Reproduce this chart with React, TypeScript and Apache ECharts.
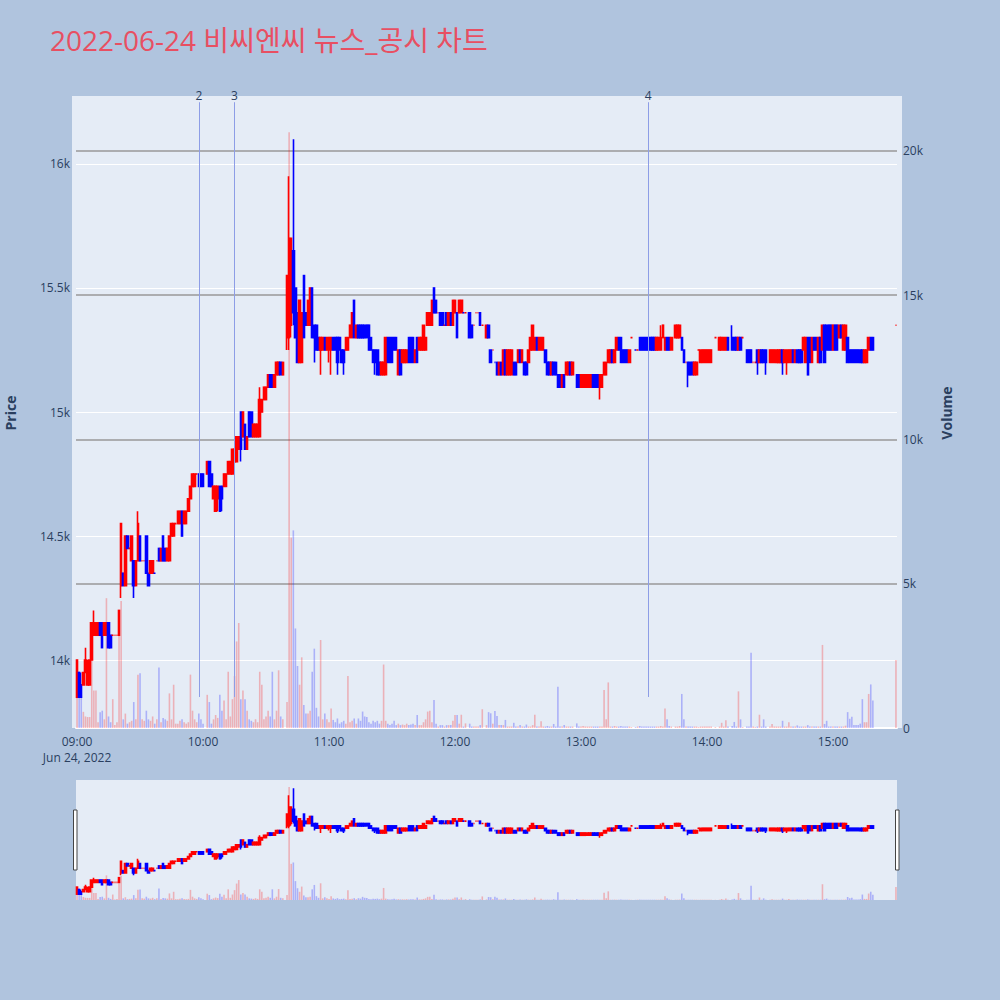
import React, { useEffect, useRef } from "react";
import * as echarts from "echarts";

// ---------- text / labels ----------
const TITLE = "2022-06-24 비씨엔씨 뉴스_공시 차트";
const HOUR_LABELS = ["09:00", "10:00", "11:00", "12:00", "13:00", "14:00", "15:00"];
const DATE_LABEL = "Jun 24, 2022";
const PRICE_TICKS = [14000, 14500, 15000, 15500, 16000];
const PRICE_RANGE = [13726, 16274];
const VOLUME_RANGE = [0, 21906];
const VOLUME_TICK_STEP = 5000;
const SESSION_FIRST_MINUTE = 9 * 60; // 09:00
const SESSION_LENGTH = 391; // 09:00 .. 15:30

// news / disclosure markers: [label, time]
const NEWS_MARKERS: [string, string][] = [
  ["2", "09:58"],
  ["3", "10:15"],
  ["4", "13:32"],
];
const NEWS_SPAN = [21690, 1075]; // top / bottom, volume-axis units

// ---------- 1-minute candles: [minute from 09:00, open, close, low, high, volume] ----------
const morningCandles: number[][] = [
  [0, 13850, 14000, 13850, 14000, 2000],
  [1, 13950, 13850, 13850, 13950, 1100],
  [2, 13900, 13850, 13850, 13950, 1140],
  [3, 13900, 13950, 13900, 13950, 560],
  [4, 13950, 14000, 13950, 14050, 400],
  [5, 13900, 13950, 13900, 14000, 380],
  [6, 13900, 14000, 13900, 14000, 380],
  [7, 14000, 14150, 14000, 14150, 2700],
  [8, 14100, 14150, 14100, 14200, 1300],
  [9, 14100, 14150, 14100, 14150, 1300],
  [10, 14100, 14150, 14100, 14150, 200],
  [11, 14150, 14100, 14100, 14150, 550],
  [12, 14150, 14050, 14050, 14150, 600],
  [13, 14100, 14150, 14100, 14150, 300],
  [14, 14100, 14150, 14100, 14150, 4500],
  [15, 14150, 14050, 14050, 14150, 400],
  [16, 14100, 14050, 14050, 14100, 200],
  [17, 14100, 14100, 14100, 14100, 1000],
  [18, 14100, 14100, 14100, 14100, 100],
  [19, 14100, 14100, 14100, 14100, 200],
  [20, 14100, 14200, 14100, 14200, 3800],
  [21, 14300, 14550, 14250, 14550, 4400],
  [22, 14350, 14300, 14300, 14350, 300],
  [23, 14300, 14500, 14300, 14500, 500],
  [24, 14500, 14450, 14450, 14500, 150],
  [25, 14450, 14450, 14450, 14450, 200],
  [26, 14400, 14500, 14400, 14500, 250],
  [27, 14400, 14300, 14250, 14400, 900],
  [28, 14300, 14400, 14300, 14400, 300],
  [29, 14400, 14550, 14400, 14600, 1850],
  [30, 14500, 14400, 14400, 14500, 1900],
  [31, 14400, 14400, 14400, 14400, 300],
  [32, 14400, 14400, 14400, 14400, 250],
  [33, 14500, 14350, 14350, 14500, 600],
  [34, 14350, 14300, 14300, 14350, 300],
  [35, 14350, 14400, 14350, 14400, 250],
  [36, 14350, 14400, 14350, 14400, 400],
  [37, 14350, 14350, 14350, 14350, 150],
  [38, 14400, 14400, 14400, 14400, 300],
  [39, 14450, 14400, 14400, 14450, 2100],
  [40, 14400, 14450, 14400, 14450, 200],
  [41, 14500, 14400, 14400, 14500, 350],
  [42, 14450, 14400, 14400, 14450, 300],
  [43, 14400, 14450, 14400, 14450, 250],
  [44, 14400, 14500, 14400, 14500, 1200],
  [45, 14500, 14550, 14500, 14550, 300],
  [46, 14500, 14550, 14500, 14550, 1500],
  [47, 14550, 14550, 14550, 14550, 150],
  [48, 14550, 14600, 14550, 14600, 150],
  [49, 14550, 14600, 14550, 14600, 250],
  [50, 14600, 14500, 14500, 14600, 300],
  [51, 14550, 14600, 14550, 14600, 200],
  [52, 14550, 14600, 14550, 14600, 150],
  [53, 14600, 14650, 14600, 14650, 200],
  [54, 14650, 14700, 14650, 14700, 1850],
  [55, 14700, 14750, 14700, 14750, 600],
  [56, 14700, 14750, 14700, 14750, 300],
  [57, 14750, 14750, 14750, 14750, 200],
  [58, 14750, 14700, 14700, 14750, 500],
  [59, 14750, 14700, 14700, 14750, 300],
  [60, 14750, 14700, 14700, 14750, 150],
  [62, 14750, 14800, 14750, 14800, 1150],
  [63, 14800, 14700, 14700, 14800, 900],
  [64, 14750, 14700, 14700, 14750, 150],
  [65, 14650, 14700, 14650, 14700, 300],
  [66, 14600, 14700, 14600, 14700, 450],
  [67, 14650, 14700, 14600, 14700, 350],
  [68, 14700, 14600, 14600, 14700, 1150],
  [69, 14700, 14650, 14600, 14700, 600],
  [70, 14700, 14750, 14700, 14750, 950],
  [71, 14700, 14750, 14700, 14750, 300],
  [72, 14750, 14800, 14750, 14800, 1950],
  [73, 14750, 14800, 14750, 14800, 400],
  [74, 14750, 14850, 14750, 14850, 1000],
  [75, 14800, 14850, 14800, 14850, 1800],
  [76, 14800, 14900, 14800, 14900, 3000],
  [77, 14850, 14900, 14850, 14900, 3640],
  [78, 15000, 14850, 14800, 15000, 1000],
  [79, 14900, 15000, 14900, 15000, 1300],
  [80, 14950, 14850, 14850, 14950, 1000],
  [81, 14850, 14900, 14850, 14900, 600],
  [82, 15000, 14900, 14900, 15000, 300],
  [83, 15000, 14900, 14900, 15000, 250],
  [84, 14900, 14950, 14900, 14950, 200],
  [85, 14900, 14950, 14900, 14950, 300],
  [86, 14900, 14950, 14900, 14950, 200],
  [87, 14900, 15050, 14900, 15100, 1950],
  [88, 15000, 15050, 15000, 15050, 1500],
  [89, 15050, 15100, 15050, 15100, 300],
  [90, 15050, 15100, 15050, 15100, 400],
  [91, 15100, 15150, 15100, 15150, 600],
  [92, 15150, 15100, 15100, 15150, 400],
  [93, 15150, 15100, 15100, 15150, 1950],
  [94, 15100, 15150, 15100, 15150, 300],
  [95, 15150, 15200, 15150, 15200, 600],
  [96, 15150, 15200, 15150, 15200, 2000],
  [97, 15200, 15150, 15150, 15200, 400],
  [98, 15150, 15200, 15150, 15200, 300],
];

const middayCandles: number[][] = [
  [100, 15300, 15550, 15250, 15550, 900],
  [101, 15300, 15700, 15250, 15950, 20650],
  [102, 15350, 15700, 15300, 15700, 6600],
  [103, 15650, 15400, 15350, 16100, 6850],
  [104, 15500, 15300, 15300, 15500, 3450],
  [105, 15400, 15200, 15200, 15400, 2150],
  [106, 15200, 15450, 15200, 15450, 1500],
  [107, 15200, 15400, 15200, 15400, 2450],
  [108, 15550, 15300, 15300, 15550, 800],
  [109, 15400, 15350, 15350, 15400, 500],
  [110, 15350, 15450, 15350, 15450, 500],
  [111, 15350, 15500, 15350, 15500, 600],
  [112, 15500, 15300, 15300, 15500, 1950],
  [113, 15350, 15300, 15200, 15350, 2750],
  [114, 15350, 15250, 15250, 15350, 700],
  [115, 15300, 15250, 15250, 15300, 400],
  [116, 15250, 15300, 15150, 15300, 3050],
  [117, 15250, 15300, 15250, 15300, 300],
  [118, 15300, 15250, 15250, 15300, 500],
  [119, 15250, 15300, 15250, 15300, 300],
  [120, 15250, 15300, 15200, 15300, 200],
  [121, 15250, 15300, 15150, 15300, 680],
  [122, 15300, 15250, 15250, 15300, 280],
  [123, 15300, 15250, 15250, 15300, 200],
  [124, 15300, 15200, 15150, 15300, 330],
  [125, 15300, 15250, 15250, 15300, 150],
  [126, 15250, 15200, 15200, 15250, 200],
  [127, 15250, 15200, 15150, 15250, 250],
  [128, 15250, 15300, 15250, 15300, 150],
  [129, 15250, 15300, 15250, 15300, 1800],
  [130, 15300, 15350, 15300, 15350, 200],
  [131, 15300, 15400, 15300, 15400, 250],
  [132, 15450, 15300, 15300, 15450, 330],
  [133, 15300, 15350, 15300, 15350, 150],
  [134, 15350, 15300, 15300, 15350, 330],
  [135, 15350, 15300, 15300, 15350, 250],
  [136, 15350, 15300, 15300, 15350, 570],
  [137, 15350, 15300, 15300, 15350, 400],
  [138, 15350, 15300, 15300, 15350, 380],
  [139, 15350, 15250, 15250, 15350, 200],
  [140, 15300, 15250, 15250, 15300, 150],
  [141, 15250, 15200, 15200, 15250, 250],
  [142, 15250, 15200, 15150, 15250, 200],
  [143, 15250, 15150, 15150, 15250, 250],
  [144, 15200, 15150, 15150, 15200, 150],
  [145, 15150, 15200, 15150, 15200, 250],
  [146, 15150, 15200, 15150, 15200, 2200],
  [147, 15150, 15300, 15150, 15300, 250],
  [148, 15300, 15200, 15200, 15300, 150],
  [149, 15300, 15200, 15200, 15300, 100],
  [150, 15300, 15200, 15200, 15300, 150],
  [151, 15300, 15250, 15250, 15300, 250],
  [152, 15300, 15250, 15250, 15300, 100],
  [153, 15150, 15250, 15150, 15250, 150],
  [154, 15250, 15150, 15150, 15250, 100],
  [155, 15200, 15250, 15200, 15250, 120],
  [156, 15200, 15250, 15200, 15250, 100],
  [157, 15200, 15250, 15200, 15250, 150],
  [158, 15300, 15200, 15200, 15300, 100],
  [159, 15300, 15200, 15200, 15300, 120],
  [160, 15300, 15200, 15200, 15300, 150],
  [161, 15200, 15250, 15200, 15250, 100],
  [162, 15300, 15200, 15200, 15300, 450],
  [163, 15250, 15300, 15250, 15300, 100],
  [164, 15250, 15300, 15250, 15300, 100],
  [165, 15250, 15350, 15250, 15350, 200],
  [166, 15250, 15300, 15250, 15300, 300],
  [167, 15350, 15400, 15350, 15400, 570],
  [168, 15350, 15400, 15350, 15400, 600],
  [169, 15350, 15450, 15350, 15450, 200],
  [170, 15500, 15400, 15400, 15500, 970],
  [171, 15450, 15400, 15400, 15450, 150],
  [172, 15400, 15400, 15400, 15400, 50],
  [173, 15400, 15350, 15350, 15400, 100],
  [174, 15400, 15350, 15350, 15400, 100],
  [175, 15350, 15350, 15350, 15350, 50],
  [176, 15400, 15350, 15350, 15400, 100],
  [177, 15350, 15400, 15350, 15400, 100],
  [178, 15400, 15350, 15350, 15400, 100],
  [179, 15350, 15450, 15350, 15450, 250],
  [180, 15400, 15450, 15400, 15450, 450],
  [181, 15400, 15300, 15300, 15400, 450],
  [182, 15400, 15450, 15400, 15450, 150],
  [183, 15400, 15450, 15400, 15450, 460],
  [184, 15400, 15400, 15400, 15400, 50],
  [185, 15400, 15400, 15400, 15400, 160],
  [187, 15400, 15300, 15300, 15400, 150],
  [188, 15350, 15300, 15300, 15350, 50],
  [189, 15350, 15350, 15350, 15350, 50],
  [190, 15400, 15400, 15400, 15400, 50],
  [191, 15400, 15400, 15400, 15400, 50],
  [192, 15400, 15350, 15350, 15400, 100],
  [193, 15350, 15350, 15350, 15350, 650],
  [195, 15300, 15350, 15300, 15350, 100],
  [196, 15350, 15300, 15300, 15350, 550],
  [197, 15250, 15200, 15200, 15250, 510],
  [198, 15250, 15250, 15250, 15250, 150],
  [199, 15200, 15200, 15200, 15200, 590],
];

const afternoonCandles: number[][] = [
  [200, 15200, 15150, 15150, 15200, 420],
  [201, 15150, 15200, 15150, 15200, 100],
  [202, 15200, 15150, 15150, 15200, 100],
  [203, 15150, 15250, 15150, 15250, 100],
  [204, 15250, 15150, 15150, 15250, 280],
  [205, 15150, 15250, 15150, 15250, 50],
  [206, 15150, 15250, 15150, 15250, 50],
  [207, 15150, 15250, 15150, 15250, 50],
  [208, 15200, 15150, 15150, 15200, 180],
  [209, 15200, 15150, 15150, 15200, 50],
  [210, 15200, 15250, 15200, 15250, 50],
  [211, 15250, 15200, 15200, 15250, 100],
  [212, 15200, 15250, 15200, 15250, 50],
  [213, 15200, 15150, 15150, 15200, 50],
  [214, 15200, 15150, 15150, 15200, 120],
  [215, 15200, 15250, 15200, 15250, 50],
  [216, 15250, 15300, 15250, 15300, 50],
  [217, 15250, 15350, 15250, 15350, 100],
  [218, 15250, 15300, 15250, 15300, 460],
  [219, 15300, 15250, 15250, 15300, 50],
  [220, 15250, 15300, 15250, 15300, 50],
  [221, 15250, 15300, 15250, 15300, 230],
  [222, 15250, 15300, 15250, 15300, 50],
  [223, 15250, 15200, 15200, 15250, 50],
  [224, 15200, 15150, 15150, 15200, 70],
  [225, 15200, 15150, 15150, 15200, 50],
  [226, 15150, 15200, 15150, 15200, 50],
  [227, 15200, 15150, 15150, 15200, 140],
  [228, 15200, 15150, 15150, 15200, 50],
  [229, 15150, 15100, 15100, 15150, 1430],
  [230, 15150, 15100, 15100, 15150, 50],
  [231, 15100, 15150, 15100, 15150, 50],
  [232, 15150, 15100, 15100, 15150, 100],
  [233, 15150, 15200, 15150, 15200, 50],
  [234, 15150, 15200, 15150, 15200, 50],
  [235, 15200, 15150, 15150, 15200, 50],
  [236, 15150, 15200, 15150, 15200, 50],
  [238, 15150, 15100, 15100, 15150, 160],
  [239, 15150, 15100, 15100, 15150, 50],
  [240, 15100, 15150, 15100, 15150, 50],
  [241, 15100, 15150, 15100, 15150, 70],
  [242, 15100, 15150, 15100, 15150, 50],
  [243, 15100, 15150, 15100, 15150, 50],
  [244, 15100, 15150, 15100, 15150, 50],
  [245, 15100, 15150, 15100, 15150, 50],
  [246, 15150, 15100, 15100, 15150, 50],
  [247, 15150, 15100, 15100, 15150, 50],
  [248, 15150, 15100, 15100, 15150, 50],
  [249, 15100, 15150, 15050, 15150, 50],
  [250, 15100, 15150, 15100, 15150, 50],
  [251, 15150, 15200, 15150, 15200, 1320],
  [252, 15150, 15200, 15150, 15200, 300],
  [253, 15200, 15250, 15200, 15250, 1580],
  [254, 15200, 15250, 15200, 15250, 50],
  [255, 15250, 15200, 15200, 15250, 50],
  [256, 15200, 15250, 15200, 15250, 70],
  [257, 15250, 15300, 15250, 15300, 50],
  [258, 15300, 15250, 15250, 15300, 50],
  [259, 15300, 15200, 15200, 15300, 70],
  [260, 15250, 15200, 15200, 15250, 50],
  [261, 15250, 15200, 15200, 15250, 50],
  [262, 15250, 15200, 15200, 15250, 50],
  [263, 15200, 15250, 15200, 15250, 50],
  [264, 15300, 15300, 15300, 15300, 30],
  [266, 15250, 15250, 15250, 15250, 30],
  [267, 15250, 15250, 15250, 15250, 50],
  [268, 15300, 15250, 15250, 15300, 70],
  [269, 15300, 15250, 15250, 15300, 50],
  [270, 15300, 15250, 15250, 15300, 50],
  [271, 15300, 15250, 15250, 15300, 50],
  [272, 15300, 15250, 15250, 15300, 50],
  [273, 15300, 15250, 15250, 15300, 50],
  [274, 15300, 15250, 15250, 15300, 50],
  [275, 15300, 15250, 15250, 15300, 50],
  [276, 15250, 15300, 15250, 15300, 50],
  [277, 15250, 15300, 15250, 15300, 50],
  [278, 15250, 15300, 15250, 15350, 70],
  [279, 15300, 15350, 15300, 15350, 50],
  [280, 15250, 15300, 15250, 15300, 680],
  [281, 15300, 15250, 15250, 15300, 300],
  [282, 15300, 15250, 15250, 15300, 70],
  [283, 15250, 15300, 15250, 15300, 50],
  [285, 15300, 15350, 15300, 15350, 50],
  [286, 15300, 15350, 15300, 15350, 50],
  [287, 15300, 15350, 15300, 15350, 70],
  [288, 15300, 15250, 15250, 15300, 1180],
  [289, 15250, 15200, 15200, 15250, 300],
  [290, 15200, 15200, 15200, 15200, 50],
  [291, 15200, 15150, 15100, 15200, 50],
  [292, 15200, 15150, 15150, 15200, 50],
  [293, 15200, 15150, 15150, 15200, 50],
  [294, 15150, 15200, 15150, 15200, 50],
  [295, 15150, 15200, 15150, 15200, 50],
  [296, 15250, 15250, 15250, 15250, 30],
  [297, 15200, 15250, 15200, 15250, 50],
  [298, 15200, 15250, 15200, 15250, 50],
  [299, 15200, 15250, 15200, 15250, 50],
  [300, 15200, 15250, 15200, 15250, 50],
  [301, 15200, 15250, 15200, 15250, 50],
  [302, 15200, 15250, 15200, 15250, 50],
  [304, 15300, 15300, 15300, 15300, 30],
  [306, 15250, 15300, 15250, 15300, 50],
  [307, 15250, 15300, 15250, 15300, 180],
  [308, 15250, 15300, 15250, 15300, 50],
  [309, 15250, 15300, 15250, 15300, 270],
  [310, 15300, 15250, 15250, 15300, 50],
  [312, 15300, 15250, 15250, 15350, 70],
  [313, 15300, 15250, 15250, 15300, 210],
  [314, 15300, 15250, 15250, 15300, 50],
  [315, 15250, 15300, 15250, 15300, 1270],
  [316, 15300, 15250, 15250, 15300, 300],
  [317, 15300, 15300, 15300, 15300, 30],
  [319, 15250, 15200, 15200, 15250, 50],
  [320, 15250, 15200, 15200, 15250, 50],
  [321, 15250, 15200, 15200, 15250, 2610],
  [322, 15200, 15200, 15200, 15200, 50],
  [323, 15200, 15200, 15200, 15200, 30],
  [324, 15250, 15200, 15150, 15250, 50],
  [325, 15200, 15250, 15200, 15250, 460],
  [326, 15250, 15200, 15200, 15250, 50],
  [327, 15250, 15200, 15200, 15250, 300],
  [328, 15250, 15200, 15150, 15250, 50],
  [330, 15200, 15250, 15200, 15250, 50],
  [331, 15200, 15250, 15200, 15250, 140],
  [332, 15200, 15250, 15200, 15250, 50],
  [333, 15200, 15250, 15200, 15250, 50],
  [334, 15200, 15250, 15200, 15250, 50],
  [335, 15200, 15250, 15200, 15250, 50],
  [336, 15250, 15200, 15150, 15250, 250],
  [337, 15200, 15250, 15200, 15250, 50],
  [338, 15200, 15250, 15150, 15250, 50],
  [339, 15200, 15250, 15200, 15250, 200],
  [340, 15200, 15250, 15200, 15250, 50],
  [341, 15250, 15200, 15200, 15250, 50],
  [342, 15200, 15250, 15200, 15250, 50],
  [343, 15250, 15200, 15200, 15250, 90],
  [344, 15250, 15200, 15200, 15250, 50],
  [345, 15250, 15200, 15200, 15250, 50],
  [346, 15250, 15300, 15250, 15300, 50],
  [347, 15200, 15300, 15200, 15300, 50],
  [348, 15300, 15150, 15150, 15300, 100],
  [349, 15300, 15200, 15200, 15300, 50],
  [350, 15200, 15300, 15200, 15300, 50],
  [351, 15300, 15250, 15250, 15300, 50],
  [352, 15300, 15250, 15250, 15300, 50],
  [353, 15200, 15300, 15200, 15300, 50],
  [354, 15300, 15200, 15200, 15300, 50],
  [355, 15250, 15350, 15250, 15350, 2880],
  [356, 15350, 15200, 15200, 15350, 140],
  [357, 15350, 15250, 15250, 15350, 250],
  [358, 15350, 15250, 15250, 15350, 50],
  [359, 15350, 15250, 15250, 15350, 50],
  [360, 15250, 15350, 15250, 15350, 50],
  [361, 15350, 15250, 15250, 15350, 50],
  [362, 15350, 15250, 15250, 15350, 50],
  [363, 15300, 15350, 15300, 15350, 50],
  [364, 15350, 15300, 15300, 15350, 50],
  [365, 15250, 15350, 15250, 15350, 50],
  [366, 15250, 15350, 15250, 15350, 80],
  [367, 15300, 15200, 15200, 15300, 550],
  [368, 15250, 15200, 15200, 15250, 320],
  [369, 15250, 15200, 15200, 15250, 390],
  [370, 15250, 15200, 15200, 15250, 100],
  [371, 15250, 15200, 15200, 15250, 100],
  [372, 15250, 15200, 15200, 15250, 100],
  [373, 15250, 15200, 15200, 15250, 150],
  [374, 15250, 15200, 15200, 15250, 1000],
  [375, 15200, 15250, 15200, 15250, 200],
  [376, 15200, 15250, 15200, 15250, 200],
  [377, 15250, 15300, 15250, 15300, 1180],
  [378, 15300, 15250, 15250, 15300, 1510],
  [379, 15300, 15250, 15250, 15300, 950],
  [390, 15350, 15350, 15350, 15350, 2360],
];

// ---------- style constants ----------
const UP = "#ff0000";
const DOWN = "#0000ff";
const UP_VOL = "rgba(255,0,0,0.25)";
const DOWN_VOL = "rgba(0,0,255,0.25)";
const PAPER = "#b0c4de";
const PLOT_BG = "#e5ecf6";
const INK = "#2a3f5f";
const GRID_GRAY = "#999999";
const NEWS_LINE = "#8d9de6";
const FONT = '"Open Sans", verdana, arial, sans-serif';

function pad(n: number) {
  return n < 10 ? "0" + n : String(n);
}

function buildOption() {
  const cats: string[] = [];
  for (let i = 0; i < SESSION_LENGTH; i++) {
    const t = SESSION_FIRST_MINUTE + i;
    cats.push(pad(Math.floor(t / 60)) + ":" + pad(t % 60));
  }

  const rows = [...morningCandles, ...middayCandles, ...afternoonCandles];
  const candleData: any[] = cats.map(() => "-");
  const volData: any[] = cats.map(() => "-");
  let prevClose: number | null = null;
  for (const [m, o, c, l, h, v] of rows) {
    const up = c > o || (c === o && (prevClose === null || prevClose <= c));
    const col = up ? UP : DOWN;
    candleData[m] = {
      value: [o, c, l, h],
      itemStyle: { color: col, color0: col, borderColor: col, borderColor0: col, borderColorDoji: col },
    };
    volData[m] = { value: v, itemStyle: { color: up ? UP_VOL : DOWN_VOL } };
    prevClose = c;
  }

  const kFmt = (v: number) => (v === 0 ? "0" : v / 1000 + "k");

  const candleStyle = { borderWidth: 1.6 };

  return {
    animation: false,
    backgroundColor: PAPER,
    textStyle: { fontFamily: FONT },
    title: {
      text: TITLE,
      left: 50,
      top: 26,
      padding: 0,
      textStyle: {
        fontSize: 28,
        fontWeight: "normal",
        color: "#e84f62",
        fontFamily: '"Open Sans", "Noto Sans CJK KR", sans-serif',
      },
    },
    grid: [
      { left: 76, top: 96, width: 821, height: 632, containLabel: false },
      { left: 76, top: 780, width: 821, height: 120, containLabel: false },
    ],
    xAxis: [
      {
        type: "category",
        gridIndex: 0,
        data: cats,
        boundaryGap: true,
        axisTick: { show: false },
        axisLine: { show: true, lineStyle: { color: "#ffffff", width: 2 } },
        splitLine: { show: false },
        axisLabel: {
          interval: (_i: number, v: string) => HOUR_LABELS.indexOf(v) >= 0,
          formatter: (v: string) => (v === HOUR_LABELS[0] ? v + "\n" + DATE_LABEL : v),
          color: INK,
          fontSize: 12,
          lineHeight: 16,
          margin: 5,
          fontFamily: FONT,
        },
      },
      {
        type: "category",
        gridIndex: 1,
        data: cats,
        boundaryGap: true,
        show: false,
      },
    ],
    yAxis: [
      {
        type: "value",
        gridIndex: 0,
        position: "left",
        min: PRICE_RANGE[0],
        max: PRICE_RANGE[1],
        splitNumber: 5,
        axisLine: { show: false },
        axisTick: { show: false },
        splitLine: { show: false },
        axisLabel: {
          showMinLabel: false,
          showMaxLabel: false,
          formatter: (v: number) => (PRICE_TICKS.indexOf(v) >= 0 ? kFmt(v) : ""),
          color: INK,
          fontSize: 12,
          margin: 6,
          fontFamily: FONT,
        },
      },
      {
        type: "value",
        gridIndex: 0,
        position: "right",
        min: VOLUME_RANGE[0],
        max: VOLUME_RANGE[1],
        interval: VOLUME_TICK_STEP,
        axisLine: { show: false },
        axisTick: { show: false },
        splitLine: {
          show: true,
          lineStyle: {
            color: ["#ffffff", GRID_GRAY, GRID_GRAY, GRID_GRAY, GRID_GRAY, "rgba(0,0,0,0)"],
            width: 1.6,
          },
        },
        axisLabel: {
          showMaxLabel: false,
          formatter: (v: number) => (v % VOLUME_TICK_STEP === 0 ? kFmt(v) : ""),
          color: INK,
          fontSize: 12,
          margin: 6,
          fontFamily: FONT,
        },
      },
      { type: "value", gridIndex: 1, min: PRICE_RANGE[0], max: PRICE_RANGE[1], show: false, splitLine: { show: false } },
      { type: "value", gridIndex: 1, min: VOLUME_RANGE[0], max: VOLUME_RANGE[1], show: false, splitLine: { show: false } },
    ],
    series: [
      {
        name: "Volume",
        type: "bar",
        xAxisIndex: 0,
        yAxisIndex: 1,
        data: volData,
        barWidth: 1.6,
        large: false,
        silent: true,
        markLine: {
          silent: true,
          symbol: ["none", "none"],
          lineStyle: { color: NEWS_LINE, width: 1, type: "solid" },
          label: { show: true, position: "start", formatter: "{b}", color: INK, fontSize: 12, distance: 1, fontFamily: FONT },
          data: NEWS_MARKERS.map(([txt, t]) => [
            { name: txt, xAxis: t, yAxis: NEWS_SPAN[0] },
            { xAxis: t, yAxis: NEWS_SPAN[1] },
          ]),
        },
      },
      {
        name: "Price",
        type: "candlestick",
        xAxisIndex: 0,
        yAxisIndex: 0,
        data: candleData,
        barWidth: 2,
        large: false,
        silent: true,
        itemStyle: candleStyle,
        markLine: {
          z: 1,
          silent: true,
          symbol: ["none", "none"],
          label: { show: false },
          lineStyle: { color: "#ffffff", width: 1, type: "solid" },
          data: PRICE_TICKS.map((v) => ({ yAxis: v })),
        },
      },
      {
        name: "VolumeMini",
        type: "bar",
        xAxisIndex: 1,
        yAxisIndex: 3,
        data: volData,
        barWidth: 1.6,
        large: false,
        silent: true,
      },
      {
        name: "PriceMini",
        type: "candlestick",
        xAxisIndex: 1,
        yAxisIndex: 2,
        data: candleData,
        barWidth: 2,
        large: false,
        silent: true,
        itemStyle: candleStyle,
      },
    ],
    graphic: [
      { type: "rect", z: -10, silent: true, shape: { x: 72, y: 96, width: 830, height: 632 }, style: { fill: PLOT_BG } },
      { type: "rect", z: -10, silent: true, shape: { x: 76, y: 780, width: 821, height: 120 }, style: { fill: PLOT_BG } },
      {
        type: "rect",
        z: 100,
        silent: true,
        shape: { x: 73.5, y: 810, width: 3.5, height: 60 },
        style: { fill: "#ffffff", stroke: "#444444", lineWidth: 1 },
      },
      {
        type: "rect",
        z: 100,
        silent: true,
        shape: { x: 895.5, y: 810, width: 3.5, height: 60 },
        style: { fill: "#ffffff", stroke: "#444444", lineWidth: 1 },
      },
      {
        type: "text",
        z: 100,
        x: 10,
        y: 413,
        rotation: Math.PI / 2,
        silent: true,
        style: { text: "Price", fill: INK, font: 'bold 14px "Open Sans", verdana, arial, sans-serif', align: "center", verticalAlign: "middle" },
      },
      {
        type: "text",
        z: 100,
        x: 946,
        y: 413,
        rotation: Math.PI / 2,
        silent: true,
        style: { text: "Volume", fill: INK, font: 'bold 14px "Open Sans", verdana, arial, sans-serif', align: "center", verticalAlign: "middle" },
      },
    ],
  };
}

export default function App() {
  const ref = useRef<HTMLDivElement>(null);
  useEffect(() => {
    if (!ref.current) return;
    const chart = echarts.init(ref.current, null, { renderer: "svg" });
    chart.setOption(buildOption() as any);
    return () => chart.dispose();
  }, []);
  return <div ref={ref} style={{ position: "absolute", left: 0, top: 0, width: 1000, height: 1000 }} />;
}
